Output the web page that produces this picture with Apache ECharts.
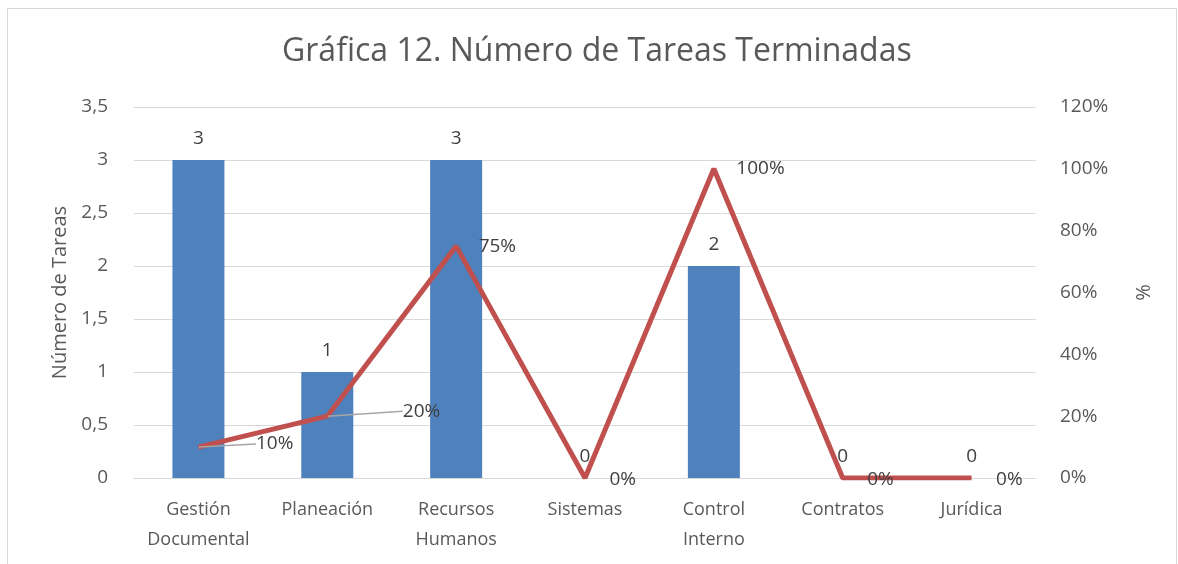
<!DOCTYPE html>
<html>
<head>
<meta charset="utf-8">
<script src="https://cdn.jsdelivr.net/npm/echarts@6/dist/echarts.min.js"></script>
<style>
  html, body { margin: 0; padding: 0; background: #fff; }
  #chart { width: 1178px; height: 564px; }
  .frame { position: absolute; left: 7px; top: 8px; width: 1168px; height: 560px; border: 1px solid #d9d9d9; pointer-events: none; }
</style>
</head>
<body>
<div id="chart"></div>
<div class="frame"></div>
<script>
const categories = ['Gestión\nDocumental', 'Planeación', 'Recursos\nHumanos', 'Sistemas', 'Control\nInterno', 'Contratos', 'Jurídica']
const tareas = [3, 1, 3, 0, 2, 0, 0]
const porcentaje = [10, 20, 75, 0, 100, 0, 0]

const font = 'Open Sans'
const chart = echarts.init(document.getElementById('chart'))

// leader lines only for the two labels that were dragged away from their point
const lineData = porcentaje.map((v, i) => ({
  value: v,
  labelLine: { show: i < 2 }
}))

chart.setOption({
  animation: false,
  textStyle: { fontFamily: font },
  title: {
    text: 'Gráfica 12. Número de Tareas Terminadas',
    left: 277,
    top: 31,
    textStyle: { fontFamily: font, fontSize: 32, fontWeight: 'normal', color: '#595959' }
  },
  grid: { left: 134, right: 142, top: 107, bottom: 86 },
  xAxis: {
    type: 'category',
    data: categories,
    axisLine: { lineStyle: { color: '#d9d9d9', width: 1 } },
    axisTick: { show: false },
    axisLabel: { color: '#595959', fontSize: 18, lineHeight: 30, margin: 17, interval: 0 }
  },
  yAxis: [{
    type: 'value',
    min: 0,
    max: 3.5,
    interval: 0.5,
    name: 'Número de Tareas',
    nameLocation: 'middle',
    nameGap: 58,
    nameTextStyle: { color: '#595959', fontSize: 20 },
    axisLine: { show: false },
    axisTick: { show: false },
    splitLine: { lineStyle: { color: '#d9d9d9' } },
    axisLabel: {
      color: '#595959',
      fontSize: 19,
      margin: 26,
      formatter: v => String(v).replace('.', ',')
    }
  }, {
    type: 'value',
    min: 0,
    max: 120,
    interval: 20,
    name: '%',
    nameLocation: 'middle',
    nameGap: 98,
    nameTextStyle: { color: '#595959', fontSize: 20 },
    axisLine: { show: false },
    axisTick: { show: false },
    splitLine: { show: false },
    axisLabel: { color: '#595959', fontSize: 19, margin: 24, formatter: '{value}%' }
  }],
  series: [{
    name: 'Tareas',
    type: 'bar',
    data: tareas,
    barWidth: 52,
    itemStyle: { color: '#4f81bd' },
    label: { show: true, position: 'top', distance: 12, color: '#404040', fontSize: 19 }
  }, {
    name: 'Porcentaje',
    type: 'line',
    yAxisIndex: 1,
    data: lineData,
    symbol: 'circle',
    symbolSize: 1,
    itemStyle: { color: 'rgba(0,0,0,0)' },
    lineStyle: { color: '#c0504d', width: 5 },
    label: {
      show: true,
      position: 'right',
      distance: 22,
      color: '#404040',
      fontSize: 19,
      formatter: '{c}%'
    },
    labelLine: { lineStyle: { color: '#a6a6a6', width: 1.5 } },
    labelLayout: function (p) {
      const i = p.dataIndex
      if (i === 0) return { dx: 35, dy: -3 }
      if (i === 1) return { dx: 53, dy: -5 }
      if (porcentaje[i] === 0) return { dy: 2, dx: 2 }
      return {}
    }
  }]
})
</script>
</body>
</html>
